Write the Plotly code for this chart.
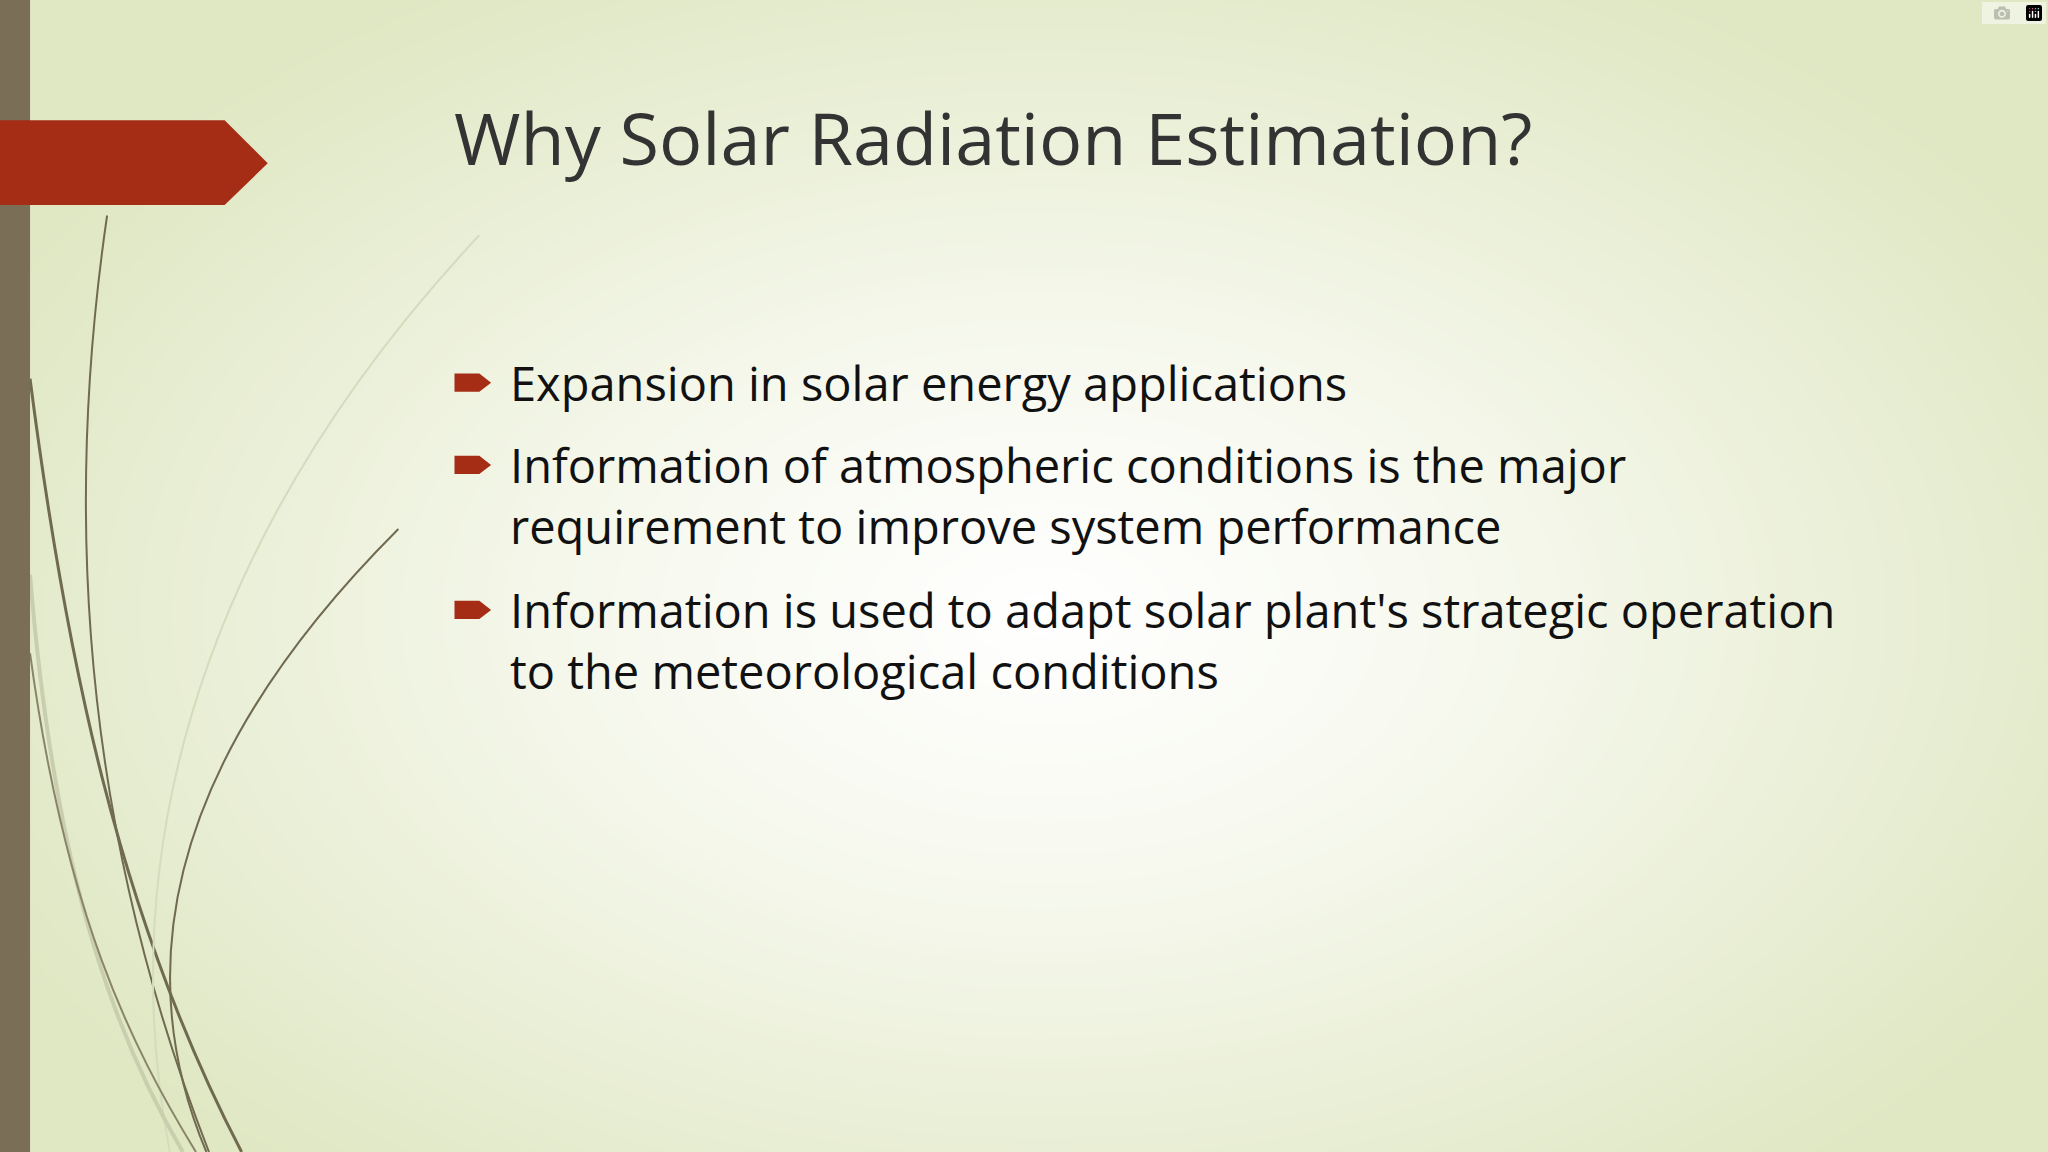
import numpy as np
import plotly.graph_objects as go

title = "Why Solar Radiation Estimation?"
bullet_lines = [
    ["Expansion in solar energy applications"],
    ["Information of atmospheric conditions is the major", "requirement to improve system performance"],
    ["Information is used to adapt solar plant's strategic operation", "to the meteorological conditions"],
]
bullet_y = [293, 356, 467]
line_gap = 47

W, H = 1568, 882
fig = go.Figure()

gx = np.linspace(0, W, 80)
gy = np.linspace(0, H, 45)
X, Y = np.meshgrid(gx, gy)
R = np.sqrt(((X - 800) / 900) ** 2 + ((Y - 470) / 560) ** 2)
fig.add_trace(go.Heatmap(x=gx, y=gy, z=np.clip(R, 0, 1), zmin=0, zmax=1, zsmooth="best",
                         colorscale=[[0, "#ffffff"], [0.35, "#f7f9ef"], [1, "#dfe7c3"]],
                         showscale=False, hoverinfo="skip"))

shapes = []
curves = [
    ("M 82 165 C 55 350, 50 600, 160 882", "#6f6a50", 2),
    ("M 23 290 C 50 500, 90 700, 185 882", "#6f6a50", 3),
    ("M 305 405 C 150 560, 90 720, 158 882", "#6f6a50", 2),
    ("M 367 180 C 180 380, 80 620, 130 882", "#d5dbbd", 2),
    ("M 23 440 C 40 650, 80 780, 140 882", "#c9cfae", 4),
    ("M 23 500 C 50 700, 100 800, 150 882", "#8a8468", 2),
]
for p, c, w in curves:
    shapes.append(dict(type="path", path=p, line=dict(color=c, width=w), xref="x", yref="y"))
shapes.append(dict(type="rect", x0=0, x1=23, y0=0, y1=H, fillcolor="#7a6e57", line_width=0))
shapes.append(dict(type="path", path="M 0 92 L 172 92 L 205 125 L 172 157 L 0 157 Z",
                   fillcolor="#a52d16", line_width=0))

ann = [dict(x=346, y=105, text=title, showarrow=False, xanchor="left", yanchor="middle",
            font=dict(family="Open Sans", size=72, color="#333333"))]
for lines, y in zip(bullet_lines, bullet_y):
    shapes.append(dict(type="path",
                       path=f"M 348 {y-7} L 367 {y-7} L 376 {y} L 367 {y+7} L 348 {y+7} Z",
                       fillcolor="#a52d16", line_width=0))
    for i, t in enumerate(lines):
        ann.append(dict(x=389, y=y + i * line_gap, text=t, showarrow=False, xanchor="left",
                        yanchor="middle", font=dict(family="Open Sans", size=47, color="#111111")))

fig.update_layout(width=2048, height=1152, margin=dict(l=0, r=0, t=0, b=0),
                  shapes=shapes, annotations=ann, plot_bgcolor="#ffffff", paper_bgcolor="#ffffff",
                  xaxis=dict(range=[0, W], visible=False, fixedrange=True),
                  yaxis=dict(range=[H, 0], visible=False, fixedrange=True),
                  showlegend=False)
fig.write_html("out.html", post_script="document.body.style.margin='0';document.body.style.overflow='hidden';")
